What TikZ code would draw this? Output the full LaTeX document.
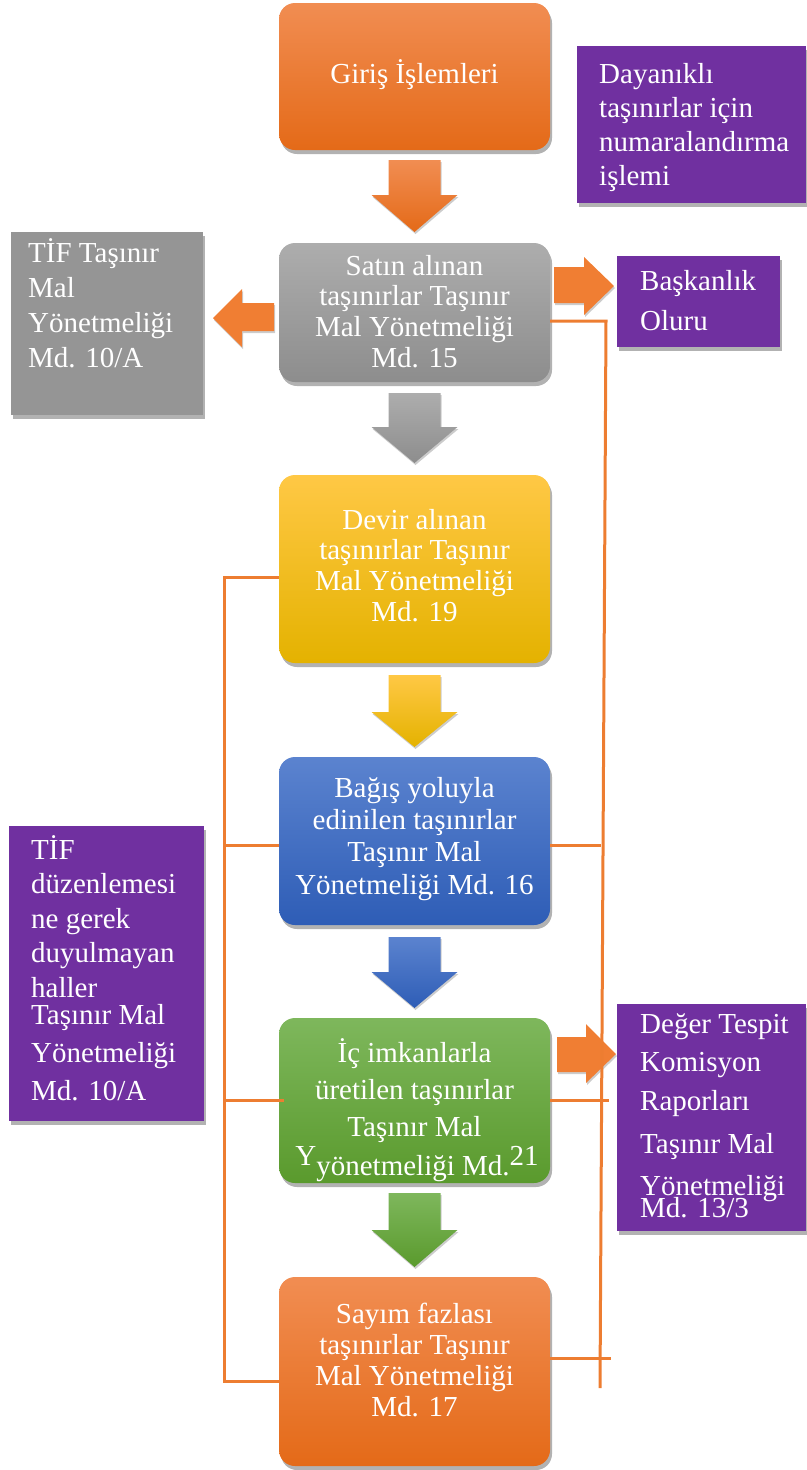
\documentclass[tikz,border=0pt]{standalone}
\usepackage{fontspec}
\setmainfont{Liberation Serif}
\usetikzlibrary{shadows,calc}
\definecolor{lineor}{HTML}{ED7D31}
\definecolor{purp}{HTML}{7030A0}
\definecolor{orTop}{HTML}{F18D52}
\definecolor{orBot}{HTML}{E46A18}
\definecolor{grTop}{HTML}{ADADAD}
\definecolor{grBot}{HTML}{8D8D8D}
\definecolor{yeTop}{HTML}{FFC845}
\definecolor{yeMid}{HTML}{FFC000}
\definecolor{yeBot}{HTML}{E4B200}
\definecolor{blTop}{HTML}{5B83CF}
\definecolor{blBot}{HTML}{2E5DB6}
\definecolor{gnTop}{HTML}{7EB75C}
\definecolor{gnBot}{HTML}{5A9A2D}
\definecolor{sidegray}{HTML}{959595}
\definecolor{harr}{HTML}{F07E33}
\newcommand\mystrut{\rule{0pt}{28pt}}
\begin{document}
\begin{tikzpicture}[x=1pt,y=-1pt,
  shadowed/.style={drop shadow={shadow xshift=2pt,shadow yshift=-4pt,opacity=0.3,fill=black}},
  mainbox/.style={rounded corners=16pt, minimum width=271pt, inner sep=0pt, shadowed},
  sidebox/.style={minimum width=#1, inner sep=0pt, anchor=north west, shadowed},
  fs/.style={font=\fontsize{29}{#1}\selectfont},
  ctxt/.style={text=white, inner sep=0pt, align=center, anchor=north},
  ltxt/.style={text=white, inner sep=0pt, align=left, anchor=north west},
  conn/.style={draw=lineor, line width=3pt},
  harrow/.style={fill=harr, drop shadow={shadow xshift=1pt,shadow yshift=-2pt,opacity=0.2,fill=black}},
  darrow/.style 2 args={top color=#1, bottom color=#2, drop shadow={shadow xshift=1pt,shadow yshift=-2pt,opacity=0.2,fill=black}}
]
\useasboundingbox (0,0) rectangle (806,1470);

% main boxes
\node[mainbox, top color=orTop, bottom color=orBot, minimum height=147pt] (giris) at (414.5,76.5) {};
\node[mainbox, top color=grTop, bottom color=grBot, minimum height=139pt] (satin) at (414.5,312.5) {};
\node[mainbox, top color=yeTop, middle color=yeMid, bottom color=yeBot, minimum height=188pt] (devir) at (414.5,569) {};
\node[mainbox, top color=blTop, bottom color=blBot, minimum height=168pt] (bagis) at (414.5,841) {};
\node[mainbox, top color=gnTop, bottom color=gnBot, minimum height=165pt] (ic) at (414.5,1100.5) {};
\node[mainbox, top color=orTop, bottom color=orBot, minimum height=189pt] (sayim) at (414.5,1371.5) {};

% side boxes
\node[sidebox=192pt, fill=sidegray, minimum height=183pt] (tifg) at (11,232) {};
\node[sidebox=229pt, fill=purp, minimum height=157pt] (dayan) at (577,46) {};
\node[sidebox=163pt, fill=purp, minimum height=91pt] (bask) at (617,256) {};
\node[sidebox=195pt, fill=purp, minimum height=295pt] (tifp) at (9,826) {};
\node[sidebox=189pt, fill=purp, minimum height=227pt] (deger) at (617,1004) {};

% texts in main boxes
\node[text=white, inner sep=0pt, anchor=base, fs=30] (giris-t) at (414.5,83) {Giriş İşlemleri};
\node[ctxt, fs=30.7] (satin-t) at (414.5,247) {\mystrut Satın alınan\\taşınırlar Taşınır\\Mal Yönetmeliği\\Md. 15};
\node[ctxt, fs=30.7] (devir-t) at (414.5,501) {\mystrut Devir alınan\\taşınırlar Taşınır\\Mal Yönetmeliği\\Md. 19};
\node[ctxt, fs=32.3] (bagis-t) at (414.5,769) {\mystrut Bağış yoluyla\\edinilen taşınırlar\\Taşınır Mal\\Yönetmeliği Md. 16};
\node[ctxt, fs=37] (ic-t) at (414.5,1034) {\mystrut İç imkanlarla\\üretilen taşınırlar\\Taşınır Mal};
\node[text=white, inner sep=0pt, anchor=base, fs=30] (ic-t2) at (417,1165) {Y\raisebox{-10pt}{yönetmeliği Md.}21};
\node[ctxt, fs=31] (sayim-t) at (414.5,1295) {\mystrut Sayım fazlası\\taşınırlar Taşınır\\Mal Yönetmeliği\\Md. 17};

% texts in side boxes
\node[ltxt, fs=35] (tifg-t) at (28,234) {\mystrut TİF Taşınır\\Mal\\Yönetmeliği\\Md. 10/A};
\node[ltxt, fs=34] (dayan-t) at (599,55) {\mystrut Dayanıklı\\taşınırlar için\\numaralandırma\\işlemi};
\node[ltxt, fs=40] (bask-t) at (640,262) {\mystrut Başkanlık\\Oluru};
\node[ltxt, fs=34.5] (tifp-t) at (31,831) {\mystrut TİF\\düzenlemesi\\ne gerek\\duyulmayan\\haller};
\node[ltxt, fs=38] (tifp-t2) at (31,996) {\mystrut Taşınır Mal\\Yönetmeliği\\Md. 10/A};
\node[ltxt, fs=38.5] (deger-t) at (640,1005) {\mystrut Değer Tespit\\Komisyon\\Raporları};
\node[ltxt, fs=42] (deger-t2) at (640,1125) {\mystrut Taşınır Mal\\Yönetmeliği};
\node[text=white, inner sep=0pt, anchor=base west, fs=30] (deger-t3) at (640,1217) {Md. 13/3};

% down block arrows
\path[darrow={orTop}{orBot}] (388.5,160) -- (440.5,160) -- (440.5,195) -- (457.5,195) -- (414.5,232) -- (371.5,195) -- (388.5,195) -- cycle;
\path[darrow={grTop}{grBot}] (388.5,393) -- (440.5,393) -- (440.5,427) -- (457.5,427) -- (414.5,463) -- (371.5,427) -- (388.5,427) -- cycle;
\path[darrow={yeTop}{yeBot}] (388.5,675) -- (440.5,675) -- (440.5,712) -- (457.5,712) -- (414.5,747) -- (371.5,712) -- (388.5,712) -- cycle;
\path[darrow={blTop}{blBot}] (388.5,937) -- (440.5,937) -- (440.5,972) -- (457.5,972) -- (414.5,1008) -- (371.5,972) -- (388.5,972) -- cycle;
\path[darrow={gnTop}{gnBot}] (388.5,1193) -- (440.5,1193) -- (440.5,1230) -- (457.5,1230) -- (414.5,1267) -- (371.5,1230) -- (388.5,1230) -- cycle;

% horizontal block arrows
\path[harrow] (274,303) -- (242,303) -- (242,289) -- (213,318) -- (242,347) -- (242,331) -- (274,331) -- cycle;
\path[harrow] (554,267) -- (584,267) -- (584,257) -- (614,286) -- (584,315) -- (584,303) -- (554,303) -- cycle;
\path[harrow] (557,1037) -- (586,1037) -- (586,1024) -- (616,1054) -- (586,1083) -- (586,1072) -- (557,1072) -- cycle;

% connector lines
\coordinate (L1) at (224,577);
\coordinate (L2) at (224,1381);
\coordinate (LB) at (224,845);
\coordinate (LI) at (224,1100);
\coordinate (R1) at (606,321);
\coordinate (R2) at (600,1388);
\coordinate (RB) at (601,845);
\coordinate (RI) at (609,1100);
\coordinate (RS) at (611,1358);
\draw[conn] (devir.west |- L1) -- (L1) -- (L2) -- (sayim.west |- L2);
\draw[conn] (LB) -- (bagis.west |- LB);
\draw[conn] (LI) -- ($(ic.west |- LI)+(5,0)$);
\draw[conn] (satin.east |- R1) -- (R1) -- (R2);
\draw[conn] (bagis.east |- RB) -- (RB);
\draw[conn] (ic.east |- RI) -- (RI);
\draw[conn] (sayim.east |- RS) -- (RS);
\end{tikzpicture}
\end{document}
